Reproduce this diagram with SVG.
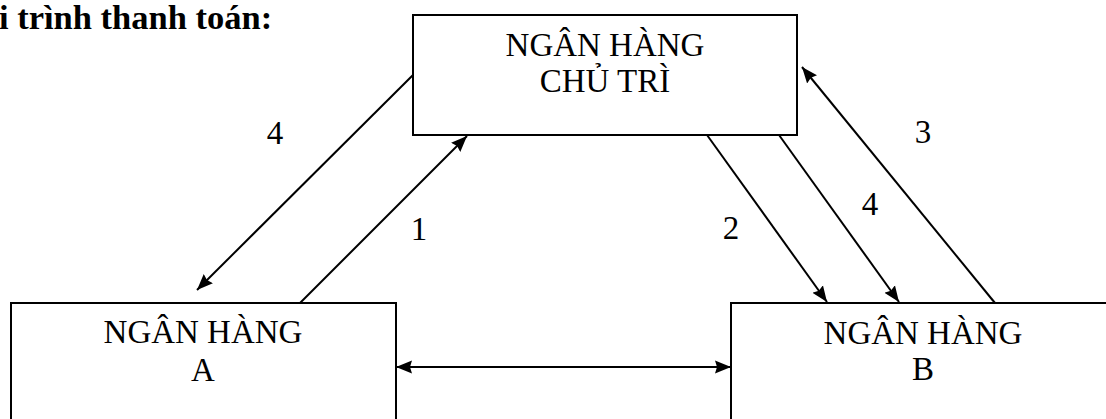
<svg xmlns="http://www.w3.org/2000/svg" width="1106" height="419" viewBox="0 0 1106 419">
<style>
.box{fill:#fff;stroke:#000;stroke-width:2}
.t{font-family:"Liberation Serif","Times New Roman",serif;font-size:33px;fill:#000;text-anchor:middle}
.title{font-family:"Liberation Serif","Times New Roman",serif;font-size:34.5px;font-weight:bold;fill:#000}
.c{stroke:#000;stroke-width:2;fill:none;marker-end:url(#ah)}
</style>
<defs>
<marker id="ah" markerUnits="userSpaceOnUse" markerWidth="17" markerHeight="14" refX="16" refY="6.5" orient="auto-start-reverse" viewBox="0 0 17 13">
<path d="M0,0 L16,6.5 L0,13 L2,6.5 z" fill="#000"/>
</marker>
</defs>
<rect width="1106" height="419" fill="#fff"/>
<text class="title" x="-1" y="29">i trình thanh toán:</text>
<g id="connectors">
<line class="c" x1="300" y1="303" x2="467" y2="136"/>
<line class="c" x1="413" y1="75" x2="197" y2="290"/>
<line class="c" x1="707" y1="135" x2="827" y2="302"/>
<line class="c" x1="779" y1="135" x2="899" y2="302"/>
<line class="c" x1="995" y1="303" x2="802" y2="67"/>
<line class="c" x1="396" y1="367" x2="731" y2="367" style="marker-start:url(#ah)"/>
<text class="t" x="275" y="144">4</text>
<text class="t" x="419" y="240">1</text>
<text class="t" x="731" y="239">2</text>
<text class="t" x="870" y="215">4</text>
<text class="t" x="923" y="143">3</text>
</g>
<g id="chutri">
<rect class="box" x="413" y="15" width="384" height="120"/>
<text class="t" x="605" y="56">NGÂN HÀNG</text>
<text class="t" x="605" y="92">CHỦ TRÌ</text>
</g>
<g id="nganhangA">
<rect class="box" x="11" y="303" width="385" height="130"/>
<text class="t" x="203" y="343">NGÂN HÀNG</text>
<text class="t" x="203" y="381">A</text>
</g>
<g id="nganhangB">
<rect class="box" x="731" y="303" width="390" height="130"/>
<text class="t" x="923" y="344">NGÂN HÀNG</text>
<text class="t" x="923" y="380">B</text>
</g>
</svg>
